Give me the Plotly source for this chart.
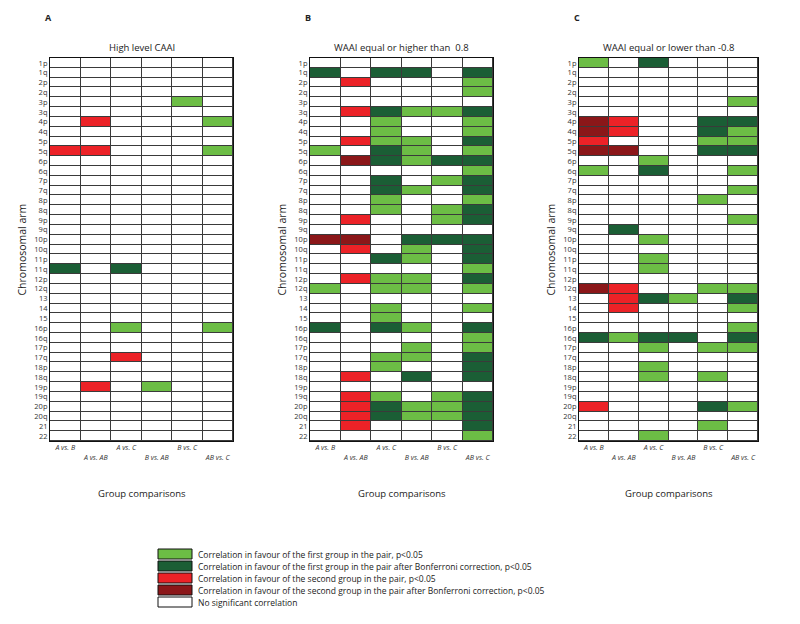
import plotly.graph_objects as go
from plotly.subplots import make_subplots

# chromosomal arms, top to bottom
arms = ["1p", "1q", "2p", "2q", "3p", "3q", "4p", "4q", "5p", "5q", "6p", "6q",
        "7p", "7q", "8p", "8q", "9p", "9q", "10p", "10q", "11p", "11q", "12p", "12q",
        "13", "14", "15", "16p", "16q", "17p", "17q", "18p", "18q", "19p", "19q",
        "20p", "20q", "21", "22"]
comparisons = ["A vs. B", "A vs. AB", "A vs. C", "B vs. AB", "B vs. C", "AB vs. C"]

# 0 none, 1 first group p<0.05, 2 first group Bonferroni, 3 second group p<0.05, 4 second group Bonferroni
caai = [
    "000000", "000000", "000000", "000000", "000010", "000000", "030001", "000000",
    "000000", "330001", "000000", "000000", "000000", "000000", "000000", "000000",
    "000000", "000000", "000000", "000000", "000000", "202000", "000000", "000000",
    "000000", "000000", "000000", "001001", "000000", "000000", "003000", "000000",
    "000000", "030100", "000000", "000000", "000000", "000000", "000000",
]
waai_high = [
    "000000", "202202", "030001", "000001", "000000", "032112", "001001", "001001",
    "031102", "102101", "042122", "000001", "002012", "002102", "001001", "001012",
    "030012", "000000", "440222", "030102", "002102", "000001", "031102", "101101",
    "000000", "001001", "001000", "202102", "000001", "000101", "001102", "001002",
    "030202", "000000", "031012", "032112", "032112", "030002", "000001",
]
waai_low = [
    "102000", "000000", "000000", "000000", "000001", "000000", "430022", "430021",
    "300011", "440022", "001000", "102001", "000000", "000001", "000010", "000000",
    "000001", "020000", "001000", "000000", "001000", "001000", "000000", "430011",
    "032102", "030001", "000000", "000001", "212202", "001011", "000000", "001000",
    "001010", "000000", "000000", "300021", "000000", "000010", "001000",
]

panel_letters = ["A", "B", "C"]
panel_titles = ["High level CAAI", "WAAI equal or higher than  0.8", "WAAI equal or lower than -0.8"]

legend_labels = [
    "Correlation in favour of the first group in the pair, p<0.05",
    "Correlation in favour of the first group in the pair after Bonferroni correction, p<0.05",
    "Correlation in favour of the second group in the pair, p<0.05",
    "Correlation in favour of the second group in the pair after Bonferroni correction, p<0.05",
    "No significant correlation",
]
colors = ["#ffffff", "#6cbd45", "#1b5e35", "#ec2227", "#8b1719"]
legend_colors = [colors[1], colors[2], colors[3], colors[4], colors[0]]

FONT = "Open Sans"
W, H = 800, 624

cscale = []
for i, c in enumerate(colors):
    cscale.append([i / 5, c])
    cscale.append([(i + 1) / 5, c])

fig = make_subplots(rows=1, cols=3)

domains = [(42, 225), (302, 485), (571, 750)]
y_top, y_bot = 50, 433

tick_text = []
for i, c in enumerate(comparisons):
    if i % 2 == 0:
        tick_text.append("<i>" + c + "</i><br> ")
    else:
        tick_text.append(" <br><i>" + c + "</i>")

for k, data in enumerate([caai, waai_high, waai_low]):
    z = [[int(ch) for ch in row] for row in data]
    fig.add_trace(go.Heatmap(
        z=z, x=comparisons, y=arms,
        colorscale=cscale, zmin=-0.5, zmax=4.5,
        showscale=False, xgap=1, ygap=1, hoverinfo="skip",
    ), row=1, col=k + 1)
    x0, x1 = domains[k]
    fig.update_xaxes(
        domain=[x0 / W, x1 / W], tickvals=comparisons, ticktext=tick_text,
        tickfont=dict(size=7, color="#333"), ticks="", showgrid=False, zeroline=False,
        showline=True, linecolor="#111", linewidth=1, mirror=True,
        row=1, col=k + 1,
    )
    fig.update_yaxes(
        domain=[1 - y_bot / H, 1 - y_top / H], categoryorder="array", categoryarray=arms,
        autorange="reversed", tickfont=dict(size=7.5, color="#333"), ticks="",
        showgrid=False, zeroline=False, showline=True, linecolor="#111", linewidth=1,
        mirror=True, row=1, col=k + 1,
    )
    xc = (x0 + x1) / 2 / W
    fig.add_annotation(x=(x0 - 7) / W, y=1 - 10 / H, xref="paper", yref="paper",
                       text="<b>" + panel_letters[k] + "</b>", showarrow=False,
                       font=dict(size=9, color="#222"), xanchor="left", yanchor="middle")
    fig.add_annotation(x=xc, y=1 - 39 / H, xref="paper", yref="paper",
                       text=panel_titles[k], showarrow=False,
                       font=dict(size=9.5, color="#222"), xanchor="center", yanchor="middle")
    fig.add_annotation(x=(x0 - 29) / W, y=1 - (y_top + y_bot) / 2 / H, xref="paper", yref="paper",
                       text="Chromosomal arm", textangle=-90, showarrow=False,
                       font=dict(size=10.5, color="#222"), xanchor="center", yanchor="middle")
    fig.add_annotation(x=xc, y=1 - 485 / H, xref="paper", yref="paper",
                       text="Group comparisons", showarrow=False,
                       font=dict(size=9.5, color="#222"), xanchor="center", yanchor="middle")

# legend, drawn as swatches plus text
for i, (lab, col) in enumerate(zip(legend_labels, legend_colors)):
    yc = 546 + i * 12
    fig.add_shape(type="rect", xref="paper", yref="paper",
                  x0=150 / W, x1=184 / W, y0=1 - (yc + 5) / H, y1=1 - (yc - 5) / H,
                  fillcolor=col, line=dict(color="#111", width=1))
    fig.add_annotation(x=188 / W, y=1 - yc / H, xref="paper", yref="paper",
                       text=lab, showarrow=False, font=dict(size=8.5, color="#222"),
                       xanchor="left", yanchor="middle")

fig.update_layout(
    width=W, height=H, margin=dict(l=0, r=0, t=0, b=0),
    paper_bgcolor="white", plot_bgcolor="#3a3a3a",
    font=dict(family=FONT, color="#222"), showlegend=False,
)

fig.write_html("out.html")
